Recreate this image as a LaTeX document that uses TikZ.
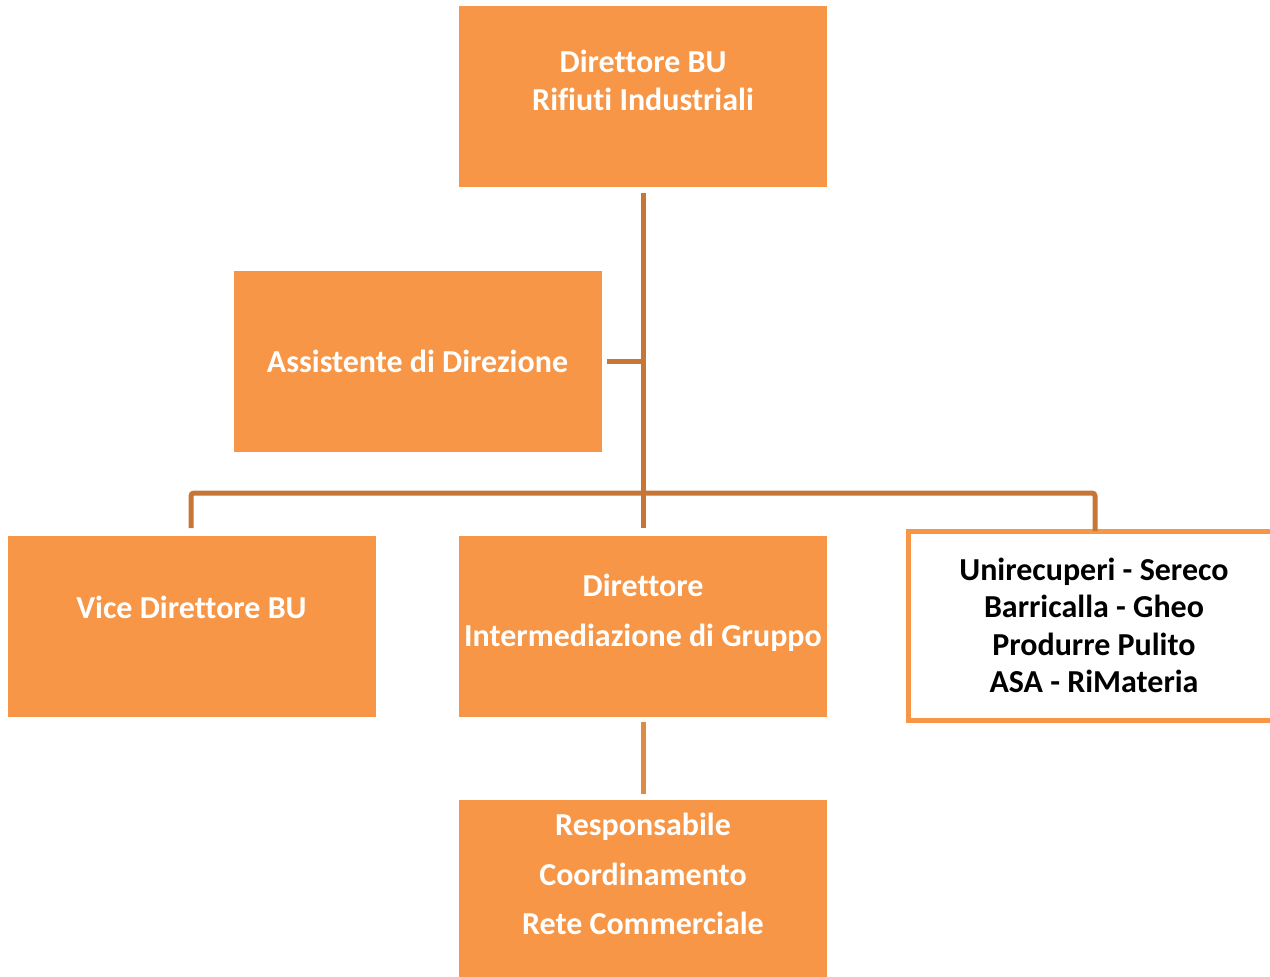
\documentclass[tikz,border=0pt]{standalone}
\usepackage{fontspec}
\setmainfont[Ligatures=NoCommon]{Carlito}
\definecolor{boxor}{HTML}{F79646}
\definecolor{lineor}{HTML}{C77636}
\definecolor{lineor2}{HTML}{E08B45}
\begin{document}
\begin{tikzpicture}[x=1pt,y=-1pt,
  orgbox/.style={fill=boxor,draw=none,minimum width=368pt,minimum height=181pt,inner sep=0pt,outer sep=0pt},
  outbox/.style={draw=boxor,line width=5pt,fill=white,minimum width=370pt,minimum height=189pt,inner sep=0pt},
  wtxt/.style={text=white,font=\fontsize{32}{37.5}\selectfont\bfseries,align=center,inner sep=0pt},
  btxt/.style={text=black,font=\fontsize{32}{37.5}\selectfont\bfseries,align=center,inner sep=0pt},
  conn/.style={draw=lineor,line width=5pt,rounded corners=3pt}]
\useasboundingbox (0,0) rectangle (1270,977);
% boxes
\node[orgbox] (top) at (643,96.5) {};
\node[orgbox] (ass) at (417.5,361) {};
\node[orgbox] (vice) at (191.5,626) {};
\node[orgbox] (dir) at (643,626) {};
\node[outbox] (soc) at (1093,625.5) {};
\node[orgbox,minimum height=182pt] (resp) at (643,891) {};
% texts
\node[wtxt] (ttop) at (643,80.5) {Direttore BU\\Rifiuti Industriali};
\node[wtxt] (tass) at (417.5,361) {Assistente di Direzione};
\node[wtxt] (tvice) at (191.5,607) {Vice Direttore BU};
\node[wtxt,font=\fontsize{32}{50}\selectfont\bfseries] (tdir) at (643,612.5) {Direttore\\Intermediazione di Gruppo};
\node[btxt] (tsoc) at (1094,625.5) {Unirecuperi - Sereco\\Barricalla - Gheo\\Produrre Pulito\\ASA - RiMateria};
\node[wtxt,font=\fontsize{32}{49.5}\selectfont\bfseries] (tresp) at (643,874) {Responsabile\\Coordinamento\\Rete Commerciale};
% connectors
\coordinate (jass) at (643,361);
\draw[conn] (643,193) -- (643,528);
\draw[conn] (607,361) -- (jass);
\draw[conn] (191,528) -- (191,493) -- (1095,493) -- (1095,531);
\draw[draw=lineor2,line width=5pt] (643,722) -- (643,794);
\end{tikzpicture}
\end{document}
